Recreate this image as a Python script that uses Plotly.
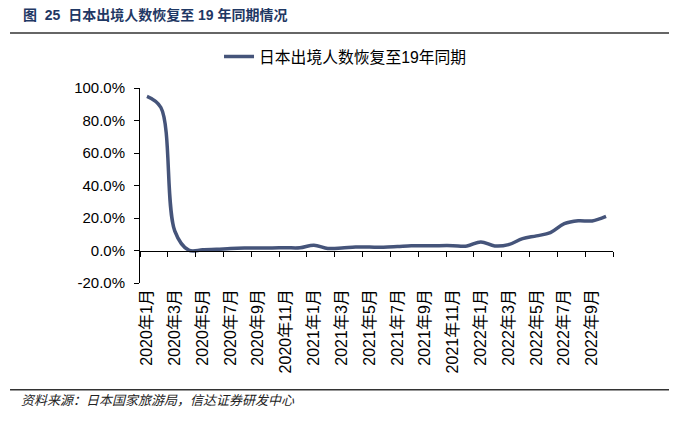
import plotly.graph_objects as go

months = [f"{y}年{m}月" for y in (2020, 2021, 2022) for m in range(1, 13)][:34]
values = [94.9, 88.0, 12.0, 0.2, 0.4, 0.7, 1.2, 1.5, 1.6, 1.6, 1.7, 1.7,
          3.3, 1.3, 1.5, 2.2, 2.1, 2.0, 2.4, 2.9, 2.9, 3.0, 3.0, 2.8,
          5.3, 2.8, 3.6, 7.3, 9.0, 11.0, 16.5, 18.3, 18.2, 21.0]
series_name = "日本出境人数恢复至19年同期"
title_text = "图  25  日本出境人数恢复至 19 年同期情况"
source_text = "资料来源：日本国家旅游局，信达证券研发中心"
y_ticks = [-20, 0, 20, 40, 60, 80, 100]
y_tick_text = [f"{v:.1f}%" for v in y_ticks]

FONT = "Liberation Sans, Arial, Noto Sans CJK SC, sans-serif"
LINE_COLOR = "#45547A"

fig = go.Figure()
fig.add_trace(go.Scatter(
    x=months, y=values, mode="lines", name=series_name,
    line=dict(color=LINE_COLOR, width=3.5, shape="spline", smoothing=1.0),
    hoverinfo="skip",
))
# zero-line axis carrier (boundary ticks)
n = len(months)
fig.add_trace(go.Scatter(
    x=[-0.5, n - 0.5], y=[0, 0], xaxis="x2", mode="lines",
    line=dict(width=0, color="rgba(0,0,0,0)"), showlegend=False, hoverinfo="skip",
))

fig.update_layout(
    width=677, height=421,
    margin=dict(l=132, r=72, t=80, b=146),
    paper_bgcolor="white", plot_bgcolor="white",
    font=dict(family=FONT, size=15, color="black"),
    showlegend=True,
    legend=dict(orientation="h", x=0.4345, xanchor="center", y=1.16, yanchor="middle",
                font=dict(size=15.8, family=FONT), bgcolor="rgba(0,0,0,0)"),
    xaxis=dict(type="category", categoryorder="array", categoryarray=months,
               range=[-0.5, n - 0.5], tickvals=months[::2], ticks="",
               showline=False, showgrid=False, zeroline=False, tickangle=-90,
               ticklabelstandoff=2,
               tickfont=dict(size=16, family=FONT)),
    xaxis2=dict(overlaying="x", anchor="free", position=20 / 120, range=[-0.5, n - 0.5],
                tickvals=[-0.5 + 2 * k for k in range(n // 2 + 1)],
                ticks="outside", ticklen=5, tickcolor="black", tickwidth=1,
                showticklabels=False, showline=True, linecolor="black", linewidth=1,
                showgrid=False, zeroline=False),
    yaxis=dict(range=[-20, 100], tickvals=y_ticks, ticktext=y_tick_text,
               ticks="outside", ticklen=5, tickcolor="black", showline=True,
               linecolor="black", linewidth=1, showgrid=False, zeroline=False,
               ticklabelstandoff=6, tickfont=dict(size=15, family=FONT)),
)

fig.add_annotation(text=f"<b>{title_text}</b>", xref="paper", yref="paper",
                   x=-0.252, y=1.376, xanchor="left", yanchor="middle", showarrow=False,
                   font=dict(size=14, color="#1F3864", family=FONT))
fig.add_annotation(text=f"<i>{source_text}</i>", xref="paper", yref="paper",
                   x=-0.256, y=-0.598, xanchor="left", yanchor="middle", showarrow=False,
                   font=dict(size=13, color="#222222", family="Noto Sans CJK SC"))
fig.add_shape(type="line", xref="paper", yref="paper", x0=-0.2748, x1=1.16, y0=1.282, y1=1.282,
              line=dict(color="#333333", width=1.5))
fig.add_shape(type="line", xref="paper", yref="paper", x0=-0.2748, x1=1.16, y0=-0.547, y1=-0.547,
              line=dict(color="#333333", width=1.5))

fig.write_html("out.html")
